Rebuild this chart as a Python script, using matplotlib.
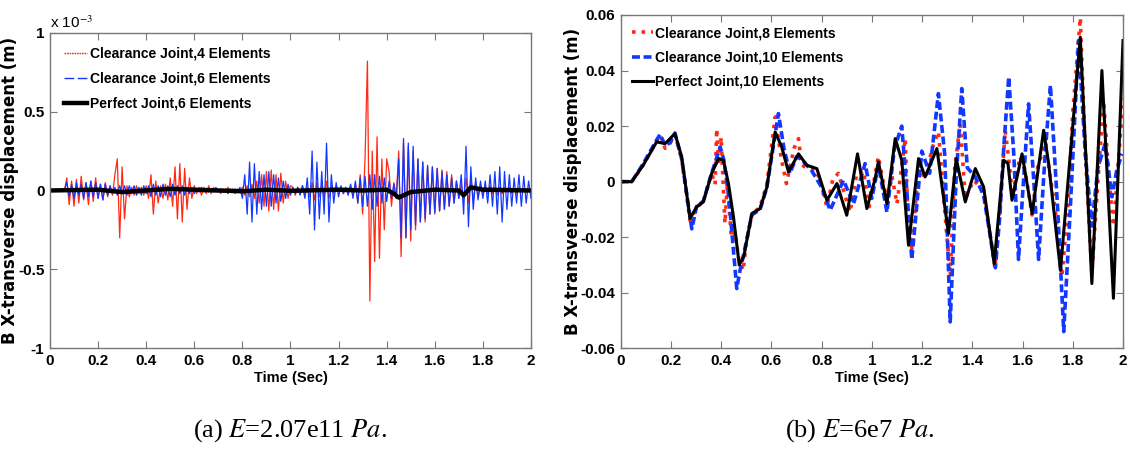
import numpy as np
import matplotlib.pyplot as plt
from matplotlib.lines import Line2D
from matplotlib.ticker import FormatStrFormatter

plt.rcParams['font.family'] = ['Liberation Sans', 'DejaVu Sans']
plt.rcParams['mathtext.fontset'] = 'stix'

# ---- (a) E=2.07e11 Pa, values in 1e-3 m, sampled every 0.01 s ----
t_a = np.arange(201) * 0.01

red_a = [0, 0, 0, 0, 0, 0, 0,
         0.08, -0.09, 0.06, -0.1, 0.07, -0.08, 0.09, -0.06, 0.05, -0.09, 0.06, -0.07, 0.08, -0.05, 0.04, -0.06, 0.05, -0.04, 0.03,
         -0.03, 0.1, 0.2, -0.3, 0.15, -0.18,
         0.03, -0.04, 0.02, -0.03, 0.03, -0.02, 0.02, -0.03, 0.03, -0.05,
         0.1, -0.15, 0.06, -0.08,
         0.03, -0.05, 0.04, -0.06, 0.08, -0.1,
         0.15, -0.18, 0.17, -0.2, 0.14, -0.12, 0.08,
         -0.05, 0.03, -0.02, 0.02, -0.03, 0.02, -0.02, 0.03, -0.02, 0.02, -0.01, 0.01, -0.02, 0.01, -0.01, 0.02, -0.01, 0.01, -0.02, 0.01,
         -0.01, 0.02, -0.03, 0.03, -0.04, 0.04, -0.05, 0.06, -0.08, 0.1, -0.1, 0.12, -0.13, 0.13, -0.12, 0.1, -0.13, 0.11, -0.08, 0.06, -0.05, 0.03,
         0.02, -0.03, 0.02, -0.02, 0.03, -0.03, 0.02, -0.04, 0.05, -0.06, 0.05, -0.04, 0.04, -0.05, 0.06, -0.05, 0.03, -0.02, 0.01, -0.01, 0.01, -0.02, 0.02, -0.02, 0.03, -0.03, 0.04,
         -0.08, 0.1, -0.15, 0.2, 0.82, -0.7, 0.25, -0.45, 0.34, -0.43, 0.2, -0.25, 0.2,
         0.12, -0.1, 0.05, -0.05,
         0.25, -0.42, 0.3, -0.3, 0.28, -0.32, 0.25, -0.25, 0.2, -0.2, 0.18, -0.2, 0.15, -0.15, 0.15, -0.15, 0.14, -0.13, 0.13, -0.12, 0.12, -0.1, 0.1, -0.08, 0.06, -0.05,
         0.04, -0.06, 0.08, -0.08, 0.08, -0.06, 0.05, -0.04, 0.03, -0.03,
         0.02, -0.02, 0.03, -0.02, 0.02, -0.03, 0.02, -0.02, 0.02, -0.01, 0.02, -0.02, 0.01, -0.02, 0.02, -0.01, 0.01, -0.01, 0.01, 0.0]

blue_a = [0, 0, 0, 0, 0, 0, 0,
          0.05, -0.04, 0.04, -0.05, 0.05, -0.03, 0.04, -0.05, 0.05, -0.04, 0.06, -0.04, 0.05, -0.05, 0.04, -0.06, 0.04, -0.03, 0.03,
          -0.02, 0.02, -0.03, 0.03, -0.02, 0.03, -0.03, 0.03, -0.02, 0.03, -0.03, 0.02, -0.03, 0.03, -0.02, 0.03, -0.04, 0.04, -0.03, 0.03,
          -0.04, 0.04, -0.03, 0.03, -0.04, 0.04, -0.03, 0.03, -0.02, 0.03, -0.03, 0.02, -0.02, 0.02,
          -0.02, 0.01, -0.01, 0.02, -0.01, 0.01, -0.01, 0.01, -0.01, 0.02, -0.01, 0.01, -0.01, 0.01, -0.02, 0.01, -0.01, 0.01, -0.01, 0.02,
          -0.05, 0.1, -0.15, 0.18, -0.2, 0.17, -0.15, 0.12, -0.12, 0.1, -0.1, 0.12, -0.1, 0.1, -0.08, 0.08, -0.07, 0.06, -0.05, 0.04, -0.03, 0.02,
          -0.02, 0.02, -0.03, 0.03, -0.05, 0.08, -0.15, 0.25, -0.25, 0.18, -0.18, 0.12, -0.15, 0.3, -0.2, 0.1, -0.08, 0.05, -0.04, 0.03, -0.02, 0.02, -0.03, 0.04,
          -0.05, 0.06, -0.08, 0.08, -0.1, 0.09, -0.1, 0.1, -0.12, 0.1, -0.1, 0.09, -0.08, 0.08, -0.07, 0.06, -0.05, 0.04, -0.05,
          0.2, -0.3, 0.33, -0.3, 0.3, -0.25, 0.28, -0.22, 0.2, -0.2, 0.18, -0.18, 0.16, -0.15, 0.15, -0.14, 0.14, -0.13, 0.12, -0.12, 0.1, -0.1, 0.08, -0.08, 0.06, -0.05,
          0.1, -0.15, 0.28, -0.23, 0.15, -0.12, 0.08, -0.06, 0.06, -0.05,
          0.06, -0.08, 0.1, -0.1, 0.12, -0.15, 0.15, -0.2, 0.12, -0.12, 0.1, -0.1, 0.08, -0.08, 0.1, -0.1, 0.09, -0.08, 0.06, -0.05]

t_black_a = [0, 0.2, 0.3, 0.5, 0.6, 0.8, 0.9, 1.0, 1.2, 1.3, 1.4, 1.43, 1.45, 1.5, 1.6, 1.7, 1.72, 1.75, 1.8, 2.0]
black_a = [0, 0.005, -0.01, 0.01, 0.005, -0.005, 0.005, -0.002, 0.005, 0, 0.005, -0.02, -0.045, -0.01, 0.005, 0, -0.03, 0.02, 0.005, 0]

# ---- (b) E=6e7 Pa, values in m ----
t_red_b = [0, 0.044, 0.09, 0.143, 0.157, 0.177, 0.196, 0.216, 0.243, 0.276,
           0.302, 0.329, 0.362, 0.376, 0.382, 0.39, 0.40, 0.41, 0.415, 0.425,
           0.44, 0.455, 0.47, 0.488, 0.50, 0.522, 0.555, 0.582, 0.615, 0.64,
           0.66, 0.69, 0.708, 0.72, 0.741, 0.781, 0.821, 0.845, 0.867, 0.913,
           0.94, 0.966, 0.99, 1.026, 1.06, 1.08, 1.10, 1.133, 1.146, 1.16,
           1.186, 1.212, 1.24, 1.265, 1.29, 1.312, 1.33, 1.352, 1.372, 1.405,
           1.445, 1.49, 1.51, 1.531, 1.545, 1.56, 1.59, 1.61, 1.638, 1.66,
           1.684, 1.70, 1.73, 1.757, 1.78, 1.80, 1.83, 1.85, 1.876, 1.90,
           1.923, 1.945, 1.962, 1.98, 2.0]
red_b = [0, 0, 0.006, 0.0145, 0.0167, 0.012, 0.0137, 0.017, 0.008, -0.014,
         -0.0095, -0.007, 0.003, -0.001, 0.019, 0.006, 0.016, -0.005, -0.015, 0.0,
         -0.02, -0.018, -0.028, -0.032, -0.022, -0.012, -0.009, -0.001, 0.0233, 0.008,
         -0.0007, 0.012, 0.0155, 0.006, 0.005, 0.004, -0.009, 0.001, 0.003, -0.011,
         0.003, 0.004, -0.009, 0.009, -0.007, 0.002, -0.008, 0.0155, -0.02, -0.024,
         0.006, 0.001, 0.012, 0.018, -0.01, -0.034, 0.005, 0.0209, -0.006, 0.0005,
         -0.003, -0.031, -0.01, 0.0185, 0.008, -0.005, 0.009, 0.004, -0.012, 0.005,
         0.012, 0.008, -0.01, -0.034, -0.01, 0.025, 0.059, 0.01, -0.033, 0.0,
         0.029, 0.0, -0.016, 0.005, 0.030]

t_blue_b = [0, 0.044, 0.09, 0.143, 0.157, 0.177, 0.196, 0.216, 0.243, 0.283,
            0.302, 0.329, 0.362, 0.396, 0.41, 0.43, 0.462, 0.475, 0.49, 0.522,
            0.555, 0.582, 0.628, 0.65, 0.674, 0.70, 0.72, 0.76, 0.80, 0.834,
            0.887, 0.927, 0.973, 1.0, 1.026, 1.06, 1.09, 1.119, 1.135, 1.159,
            1.199, 1.23, 1.265, 1.29, 1.312, 1.335, 1.358, 1.38, 1.41, 1.445,
            1.492, 1.51, 1.525, 1.545, 1.565, 1.584, 1.60, 1.624, 1.645, 1.664,
            1.69, 1.711, 1.74, 1.764, 1.79, 1.823, 1.85, 1.876, 1.90, 1.929,
            1.956, 1.975, 1.996]
blue_b = [0, 0, 0.0065, 0.015, 0.017, 0.013, 0.014, 0.0175, 0.008, -0.017,
          -0.009, -0.007, 0.003, 0.0125, 0.008, -0.005, -0.0385, -0.032, -0.026, -0.012,
          -0.010, -0.002, 0.0245, 0.012, 0.003, 0.009, 0.008, 0.004, -0.002, -0.0103,
          0.0005, -0.008, 0.0065, -0.006, 0.006, -0.011, 0.012, 0.020, 0.002, -0.028,
          0.011, 0.003, 0.0317, 0.01, -0.0505, 0.0, 0.0335, 0.005, 0.002, -0.005,
          -0.031, -0.012, 0.012, 0.0377, 0.01, -0.028, -0.005, 0.028, 0.0, -0.028,
          0.01, 0.0347, -0.01, -0.054, -0.01, 0.0508, 0.01, -0.016, 0.005, 0.0137,
          -0.0055, 0.004, 0.010]

t_black_b = [0, 0.044, 0.09, 0.143, 0.177, 0.216, 0.243, 0.276, 0.302, 0.329,
             0.362, 0.389, 0.409, 0.429, 0.449, 0.472, 0.49, 0.522, 0.555, 0.582,
             0.615, 0.641, 0.668, 0.708, 0.741, 0.781, 0.821, 0.861, 0.90, 0.943,
             0.98, 1.013, 1.026, 1.06, 1.093, 1.119, 1.146, 1.186, 1.212, 1.259,
             1.305, 1.336, 1.372, 1.412, 1.445, 1.487, 1.525, 1.542, 1.558, 1.598,
             1.638, 1.684, 1.704, 1.751, 1.83, 1.876, 1.916, 1.962, 2.0]
black_b = [0, 0, 0.006, 0.0143, 0.0137, 0.0173, 0.0089, -0.0133, -0.0091, -0.0073,
           0.0029, 0.0083, 0.0077, -0.0007, -0.0127, -0.030, -0.027, -0.0115, -0.0097, -0.002,
           0.0179, 0.0125, 0.0035, 0.010, 0.0059, 0.0047, -0.0067, -0.0007, -0.0121, 0.010,
           -0.0097, 0.001, 0.0071, -0.0079, 0.0155, 0.0077, -0.0229, 0.0083, 0.0017, 0.0119,
           -0.0187, 0.0083, -0.0073, 0.0047, -0.0019, -0.0295, 0.0077, 0.0065, -0.0067, 0.010,
           -0.0115, 0.0185, 0.0065, -0.0319, 0.052, -0.0367, 0.040, -0.042, 0.0508]

RED = '#ff2a14'
BLUE = '#1238ff'
SPINE = '#777777'


def style_axes(ax, ylab_x):
    for s in ax.spines.values():
        s.set_color(SPINE)
        s.set_linewidth(1.0)
    ax.tick_params(direction='in', top=True, right=True, length=5, color=SPINE,
                   labelsize=11, labelcolor='black', pad=4)
    ax.set_xlim(0, 2)
    ax.set_xticks(np.arange(0, 2.01, 0.2))
    ax.xaxis.set_major_formatter(FormatStrFormatter('%g'))
    ax.yaxis.set_major_formatter(FormatStrFormatter('%g'))
    for lab in ax.get_xticklabels() + ax.get_yticklabels():
        lab.set_fontweight('bold')
    ax.set_xlabel('Time (Sec)', fontsize=10.5, fontweight='bold', labelpad=2)
    ax.set_ylabel('B X-transverse displacement (m)', fontsize=12, fontweight='bold',
                  family=['DejaVu Sans'])
    ax.yaxis.set_label_coords(ylab_x, 0.5)


fig = plt.figure(figsize=(11.3, 4.61), dpi=100)

ax1 = fig.add_axes([0.0442, 0.2445, 0.4257, 0.6846])
# dense traces drawn solid; legend keys keep the dotted / dashed styles
ax1.plot(t_a, red_a, '-', color=RED, lw=0.9)
ax1.plot(t_a, blue_a, '-', color=BLUE, lw=0.9)
ax1.plot(t_black_a, black_a, '-', color='black', lw=3.2)
ax1.set_ylim(-1, 1)
ax1.set_yticks([-1, -0.5, 0, 0.5, 1])
style_axes(ax1, -0.064)
ax1.text(0.0, 1.005, 'x 10$^{-3}$', transform=ax1.transAxes, fontsize=11, ha='left', va='bottom')
keys_a = [Line2D([], [], color=RED, lw=1.0, dashes=(1.2, 0.6)),
          Line2D([], [], color=BLUE, lw=1.0, dashes=(7, 2.5)),
          Line2D([], [], color='black', lw=3.2)]
ax1.legend(keys_a, ['Clearance Joint,4 Elements', 'Clearance Joint,6 Elements', 'Perfect Joint,6 Elements'],
           loc='upper left', frameon=False, prop={'size': 10, 'weight': 'bold'}, handlelength=1.7,
           handletextpad=0.2, labelspacing=0.8, borderaxespad=0.6)

ax2 = fig.add_axes([0.5493, 0.2445, 0.4445, 0.723])
ax2.plot(t_red_b, red_b, ':', color=RED, lw=2.6, label='Clearance Joint,8 Elements')
ax2.plot(t_blue_b, blue_b, '--', color=BLUE, lw=2.6, dashes=(2.2, 1), label='Clearance Joint,10 Elements')
ax2.plot(t_black_b, black_b, '-', color='black', lw=2.2, label='Perfect Joint,10 Elements')
ax2.set_ylim(-0.06, 0.06)
ax2.set_yticks([-0.06, -0.04, -0.02, 0, 0.02, 0.04, 0.06])
style_axes(ax2, -0.077)
ax2.legend(loc='upper left', frameon=False, prop={'size': 10, 'weight': 'bold'}, handlelength=1.5,
           handletextpad=0.2, labelspacing=0.75, borderaxespad=0.4)

cap_font = ['Liberation Serif', 'DejaVu Serif']
fig.text(0.257, 0.065, '(a) $\\mathit{E}$=2.07e11 $\\mathit{Pa}$.', fontsize=19,
         ha='center', va='center', family=cap_font)
fig.text(0.761, 0.065, '(b) $\\mathit{E}$=6e7 $\\mathit{Pa}$.', fontsize=19,
         ha='center', va='center', family=cap_font)

plt.savefig('out.png', dpi=100)
